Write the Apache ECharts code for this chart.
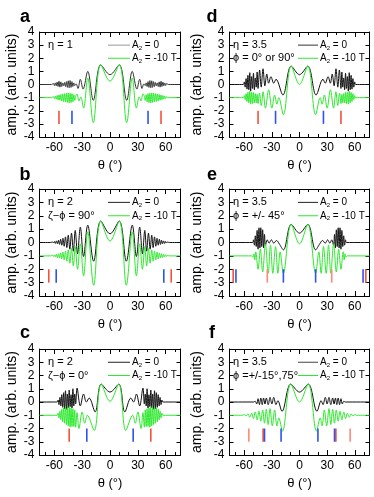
<!DOCTYPE html>
<html><head><meta charset="utf-8">
<script src="https://cdn.jsdelivr.net/npm/echarts@6/dist/echarts.min.js"></script>
<style>html,body{margin:0;padding:0;background:#fff}#c{width:374px;height:497px}</style>
</head><body><div id="c"></div>
<script>
// ---------- tick labels ----------
const xMinorTicks = [-70,-60,-50,-40,-30,-20,-10,0,10,20,30,40,50,60,70];
const xLabels = [-60,-30,0,30,60];
const yTicks = [-4,-3,-2,-1,0,1,2,3,4];

// ---------- curves [theta, amplitude] ----------
const aBlack = [[-76,0],[-63,0],[-61,0.08],[-60,-0.08],[-59,0.12],[-58,-0.1],[-57,0.18],[-56,-0.15],[-55,0.25],[-54,-0.2],[-53,0.2],[-52,-0.15],[-51,0.12],[-50,-0.1],[-49,0.15],[-48,-0.15],[-47,0.22],[-46,-0.22],[-45,0.28],[-44,-0.25],[-43,0.3],[-42,-0.22],[-41,0.22],[-40,-0.15],[-39,0.12],[-38,-0.08],[-36.5,0.05],[-34.5,-0.3],[-32,0.4],[-29,-0.35],[-24,1.0],[-18,-1.2],[-10,1.5],[0,0.75],[10,1.5],[18,-1.2],[24,1.0],[29,-0.35],[32,0.4],[34.5,-0.3],[36.5,0.05],[38,-0.08],[39,0.12],[40,-0.15],[41,0.22],[42,-0.22],[43,0.3],[44,-0.25],[45,0.28],[46,-0.22],[47,0.22],[48,-0.15],[49,0.15],[50,-0.1],[51,0.12],[52,-0.15],[53,0.2],[54,-0.2],[55,0.25],[56,-0.15],[57,0.18],[58,-0.1],[59,0.12],[60,-0.08],[61,0.08],[63,0],[76,0]];
const aGreen = [[-76,-1],[-63,-1],[-61,-0.93],[-60,-1.07],[-59,-0.88],[-58,-1.12],[-57,-0.84],[-56,-1.16],[-55,-0.8],[-54,-1.2],[-53,-0.76],[-52,-1.25],[-51,-0.72],[-50,-1.3],[-49,-0.7],[-48,-1.32],[-47,-0.66],[-46,-1.36],[-45,-0.64],[-44,-1.4],[-43,-0.66],[-42,-1.38],[-41,-0.7],[-40,-1.32],[-39,-0.78],[-38,-1.22],[-37,-0.9],[-35.5,-0.72],[-33.5,-1.25],[-31.5,-0.95],[-28.5,-1.8],[-24,0.5],[-18,-2.9],[-10,1.5],[0,0.25],[10,1.5],[18,-2.9],[24,0.5],[28.5,-1.8],[31.5,-0.95],[33.5,-1.25],[35.5,-0.72],[37,-0.9],[38,-1.22],[39,-0.78],[40,-1.32],[41,-0.7],[42,-1.38],[43,-0.66],[44,-1.4],[45,-0.64],[46,-1.36],[47,-0.66],[48,-1.32],[49,-0.7],[50,-1.3],[51,-0.72],[52,-1.25],[53,-0.76],[54,-1.2],[55,-0.8],[56,-1.16],[57,-0.84],[58,-1.12],[59,-0.88],[60,-1.07],[61,-0.93],[63,-1],[76,-1]];

const bBlack = [[-76,0],[-64,0],[-61.8,0.04],[-60.8,-0.04],[-59.8,0.08],[-58.8,-0.07],[-57.7,0.12],[-56.6,-0.1],[-55.5,0.17],[-54.4,-0.14],[-53.2,0.24],[-52,-0.2],[-50.7,0.32],[-49.4,-0.28],[-48,0.42],[-46.5,-0.38],[-45,0.55],[-43.3,-0.5],[-41.5,0.7],[-39.5,-0.65],[-37.5,0.9],[-35,-0.85],[-32,1.15],[-28.5,-1.05],[-24,1.3],[-17.6,-1.4],[-10,1.6],[0,0.65],[10,1.6],[17.6,-1.4],[24,1.3],[28.5,-1.05],[32,1.15],[35,-0.85],[37.5,0.9],[39.5,-0.65],[41.5,0.7],[43.3,-0.5],[45,0.55],[46.5,-0.38],[48,0.42],[49.4,-0.28],[50.7,0.32],[52,-0.2],[53.2,0.24],[54.4,-0.14],[55.5,0.17],[56.6,-0.1],[57.7,0.12],[58.8,-0.07],[59.8,0.08],[60.8,-0.04],[61.8,0.04],[64,0],[76,0]];
const bGreen = [[-76,-1],[-64,-1],[-61.8,-0.96],[-60.8,-1.04],[-59.8,-0.92],[-58.8,-1.08],[-57.7,-0.88],[-56.6,-1.12],[-55.5,-0.84],[-54.4,-1.16],[-53.2,-0.78],[-52,-1.22],[-50.7,-0.72],[-49.4,-1.3],[-48,-0.65],[-46.5,-1.4],[-45,-0.55],[-43.3,-1.55],[-41.5,-0.45],[-39.5,-1.75],[-37.5,-0.3],[-35,-2.0],[-32,-0.1],[-28.5,-2.5],[-24,0.8],[-17.6,-3.2],[-10,1.6],[0,0.1],[10,1.6],[17.6,-3.2],[24,0.8],[28.5,-2.5],[32,-0.1],[35,-2.0],[37.5,-0.3],[39.5,-1.75],[41.5,-0.45],[43.3,-1.55],[45,-0.55],[46.5,-1.4],[48,-0.65],[49.4,-1.3],[50.7,-0.72],[52,-1.22],[53.2,-0.78],[54.4,-1.16],[55.5,-0.84],[56.6,-1.12],[57.7,-0.88],[58.8,-1.08],[59.8,-0.92],[60.8,-1.04],[61.8,-0.96],[64,-1],[76,-1]];

const cBlack = [[-76,0],[-57,0],[-56,0.15],[-55,-0.2],[-54,0.35],[-53,-0.3],[-52,0.55],[-51,-0.4],[-50,0.7],[-49,-0.5],[-48,0.85],[-47,-0.55],[-46,0.6],[-45,-0.45],[-44,0.9],[-43,-0.35],[-42,0.55],[-41,-0.45],[-40,1.0],[-39,-0.3],[-38,0.6],[-37,-0.15],[-35.5,1.05],[-32,-0.3],[-28.5,0.6],[-25.5,0.0],[-22.5,0.3],[-16,-0.75],[-9.5,1.35],[0,0.75],[9.5,1.35],[16,-0.75],[22.5,0.3],[25.5,0.0],[28.5,0.6],[32,-0.3],[35.5,1.05],[37,-0.15],[38,0.6],[39,-0.3],[40,1.0],[41,-0.45],[42,0.55],[43,-0.35],[44,0.9],[45,-0.45],[46,0.6],[47,-0.55],[48,0.85],[49,-0.5],[50,0.7],[51,-0.4],[52,0.55],[53,-0.3],[54,0.35],[55,-0.2],[56,0.15],[57,0],[76,0]];
const cGreen = [[-76,-1],[-57,-1],[-56,-0.85],[-55,-1.2],[-54,-0.7],[-53,-1.35],[-52,-0.55],[-51,-1.5],[-50,-0.45],[-49,-1.6],[-48,-0.35],[-47,-1.7],[-46,-0.45],[-45,-1.8],[-44,-0.35],[-43,-1.9],[-42,-0.45],[-41,-1.85],[-40,-0.5],[-39,-1.85],[-38,-0.6],[-37,-1.9],[-35.5,-0.8],[-33.5,-2.0],[-30,-0.75],[-27.3,-1.6],[-24.5,-1.0],[-17,-2.15],[-9.5,1.35],[0,0.05],[9.5,1.35],[17,-2.15],[24.5,-1.0],[27.3,-1.6],[30,-0.75],[33.5,-2.0],[35.5,-0.8],[37,-1.9],[38,-0.6],[39,-1.85],[40,-0.5],[41,-1.85],[42,-0.45],[43,-1.9],[44,-0.35],[45,-1.8],[46,-0.45],[47,-1.7],[48,-0.35],[49,-1.6],[50,-0.45],[51,-1.5],[52,-0.55],[53,-1.35],[54,-0.7],[55,-1.2],[56,-0.85],[57,-1],[76,-1]];

const dBlack = [[-76,0],[-61,0],[-60,0.2],[-59,-0.2],[-58,0.45],[-57,-0.35],[-56,0.7],[-55,-0.4],[-54,0.9],[-53,-0.5],[-52,0.6],[-51,-0.3],[-50,0.85],[-49,-0.4],[-48,0.5],[-47,-0.2],[-46,0.95],[-45,-0.3],[-43.3,1.1],[-41.6,-0.2],[-39.6,1.2],[-37.6,-0.1],[-35.5,0.8],[-33.5,0.1],[-31,0.6],[-28,0.1],[-25.5,0.4],[-18,-0.8],[-9,1.4],[0,0.75],[9,1.4],[18,-0.8],[25.5,0.4],[28,0.1],[31,0.6],[33.5,0.1],[35.5,0.8],[37.6,-0.1],[39.6,1.2],[41.6,-0.2],[43.3,1.1],[45,-0.3],[46,0.95],[47,-0.2],[48,0.5],[49,-0.4],[50,0.85],[51,-0.3],[52,0.6],[53,-0.5],[54,0.9],[55,-0.4],[56,0.7],[57,-0.35],[58,0.45],[59,-0.2],[60,0.2],[61,0],[76,0]];
const dGreen = [[-76,-1],[-61,-1],[-60,-0.85],[-59,-1.15],[-58,-0.7],[-57,-1.3],[-56,-0.6],[-55,-1.4],[-54,-0.5],[-53,-1.5],[-52,-0.6],[-51,-1.45],[-50,-0.6],[-49,-1.4],[-48,-0.7],[-47,-1.4],[-46,-0.75],[-45,-1.45],[-43.5,-0.65],[-41.5,-1.6],[-39.5,-0.55],[-37,-1.8],[-33.5,-0.4],[-30,-1.8],[-27,-0.8],[-24.5,-1.5],[-22.5,-1.0],[-17.5,-2.3],[-9,1.4],[0,0.0],[9,1.4],[17.5,-2.3],[22.5,-1.0],[24.5,-1.5],[27,-0.8],[30,-1.8],[33.5,-0.4],[37,-1.8],[39.5,-0.55],[41.5,-1.6],[43.5,-0.65],[45,-1.45],[46,-0.75],[47,-1.4],[48,-0.7],[49,-1.4],[50,-0.6],[51,-1.45],[52,-0.6],[53,-1.5],[54,-0.5],[55,-1.4],[56,-0.6],[57,-1.3],[58,-0.7],[59,-1.15],[60,-0.85],[61,-1],[76,-1]];

const eBlack = [[-76,0],[-51,0],[-50,0.2],[-49,-0.2],[-48,0.5],[-47,-0.3],[-46,0.9],[-45,-0.5],[-44,1.1],[-43,-0.4],[-42,1.1],[-41,-0.3],[-40,0.95],[-39,-0.4],[-38,0.6],[-37,-0.2],[-35,0.2],[-33,-0.05],[-30.5,0.2],[-28,-0.05],[-25,0.15],[-22,-0.1],[-17.5,-0.55],[-9,1.35],[0,0.7],[9,1.35],[17.5,-0.55],[22,-0.1],[25,0.15],[28,-0.05],[30.5,0.2],[33,-0.05],[35,0.2],[37,-0.2],[38,0.6],[39,-0.4],[40,0.95],[41,-0.3],[42,1.1],[43,-0.4],[44,1.1],[45,-0.5],[46,0.9],[47,-0.3],[48,0.5],[49,-0.2],[50,0.2],[51,0],[76,0]];
const eGreen = [[-76,-1],[-52,-1],[-50.5,-1.1],[-49.5,-0.85],[-48.5,-1.3],[-47.5,-0.7],[-45,-2.0],[-42.5,-0.5],[-40,-2.2],[-37,-0.1],[-34,-2.3],[-31.5,-0.2],[-29,-2.3],[-26,-0.3],[-23.5,-2.3],[-21,-0.7],[-17.5,-2.3],[-9,1.35],[0,-0.1],[9,1.35],[17.5,-2.3],[21,-0.7],[23.5,-2.3],[26,-0.3],[29,-2.3],[31.5,-0.2],[34,-2.3],[37,-0.1],[40,-2.2],[42.5,-0.5],[45,-2.0],[47.5,-0.7],[48.5,-1.3],[49.5,-0.85],[50.5,-1.1],[52,-1],[76,-1]];

const fBlack = [[-76,0],[-50,0],[-48,0.05],[-46.5,-0.15],[-45,0.25],[-43.5,-0.2],[-42,0.3],[-40.5,-0.2],[-39,0.3],[-37.5,-0.15],[-36,0.3],[-34,-0.2],[-32,0.35],[-30,-0.15],[-28,0.35],[-25.5,-0.2],[-23.5,0.1],[-19,-0.7],[-9.5,1.35],[0,0.75],[9.5,1.35],[19,-0.7],[23.5,0.1],[25.5,-0.2],[28,0.35],[30,-0.15],[32,0.35],[34,-0.2],[36,0.3],[37.5,-0.15],[39,0.3],[40.5,-0.2],[42,0.3],[43.5,-0.2],[45,0.25],[46.5,-0.15],[48,0.05],[50,0],[76,0]];
const fGreen = [[-76,-1],[-62,-1],[-60,-0.95],[-58,-1.05],[-56,-0.9],[-54,-1.15],[-52,-0.85],[-50,-1.25],[-48,-0.75],[-46,-1.35],[-44,-0.7],[-42,-1.45],[-40,-0.6],[-38,-1.6],[-36,-0.55],[-34,-1.7],[-32,-0.5],[-29.5,-1.8],[-27,-0.6],[-24.5,-1.8],[-22.5,-1.2],[-18.5,-2.2],[-9.5,1.35],[0,0.0],[9.5,1.35],[18.5,-2.2],[22.5,-1.2],[24.5,-1.8],[27,-0.6],[29.5,-1.8],[32,-0.5],[34,-1.7],[36,-0.55],[38,-1.6],[40,-0.6],[42,-1.45],[44,-0.7],[46,-1.35],[48,-0.75],[50,-1.25],[52,-0.85],[54,-1.15],[56,-0.9],[58,-1.05],[60,-0.95],[62,-1],[76,-1]];

// ---------- vertical markers (theta positions), spanning amplitude -2 .. -3 ----------
const markTop = -2, markBottom = -3;
const aRedX = [-55,55], aBlueX = [-41,41];
const bRedX = [-66,66], bBlueX = [-58,58];
const cRedX = [-44,44], cBlueX = [-25,25];
const dRedX = [-45,45], dBlueX = [-26,26];
const eRedX = [-72,72], eSalmonX = [-35,35], eBlueX = [-69,-17.5,17.5,69];
const fRedX = [-39.5,39.5], fSalmonX = [-55,55], fBlueX = [-38,-20,20,38];

// ---------- layout / style ----------
const FONT = "'Liberation Sans', Arial, sans-serif";
const GREEN = '#2ee82e';
const RED = '#f4503a', SALMON = '#ff8a78', BLUE = '#2f52ee';
const cols = [{left:39.5, width:141, ynameGap:20, tx:48, lx1:108, lx2:130, ltx:132, letterX:25},
              {left:229.5, width:140, ynameGap:25, tx:233, lx1:298, lx2:318, ltx:320, letterX:212}];
const rows = [{top:32, height:105, letterY:17},{top:189, height:107, letterY:175},{top:349, height:106, letterY:333}];

const panels = [
  {letter:'a', c:0, r:0, t1:'η = 1', t2:'', black:aBlack, green:aGreen, blackColor:'#333', legendBlack:'#999', marks:[[aRedX,RED],[aBlueX,BLUE]]},
  {letter:'b', c:0, r:1, t1:'η = 2', t2:'ζ−ϕ = 90°', black:bBlack, green:bGreen, blackColor:'#111', legendBlack:'#222', marks:[[bRedX,RED],[bBlueX,BLUE]]},
  {letter:'c', c:0, r:2, t1:'η = 2', t2:'ζ−ϕ = 0°', black:cBlack, green:cGreen, blackColor:'#111', legendBlack:'#222', marks:[[cRedX,RED],[cBlueX,BLUE]]},
  {letter:'d', c:1, r:0, t1:'η = 3.5', t2:'ϕ = 0° or 90°', black:dBlack, green:dGreen, blackColor:'#111', legendBlack:'#333', marks:[[dRedX,RED],[dBlueX,BLUE]]},
  {letter:'e', c:1, r:1, t1:'η = 3.5', t2:'ϕ = +/- 45°', black:eBlack, green:eGreen, blackColor:'#111', legendBlack:'#222', marks:[[eRedX,RED],[eSalmonX,SALMON],[eBlueX,BLUE]]},
  {letter:'f', c:1, r:2, t1:'η = 3.5', t2:'ϕ =+/-15°,75°', black:fBlack, green:fGreen, blackColor:'#111', legendBlack:'#444', marks:[[fSalmonX,SALMON],[fRedX,RED],[fBlueX,BLUE]]}
];

const grid = [], xAxis = [], yAxis = [], series = [], graphic = [];
const axisLineStyle = {show:true, onZero:false, lineStyle:{color:'#000', width:1}};
const noLine = {show:false, onZero:false};
panels.forEach((p, i) => {
  const col = cols[p.c], row = rows[p.r];
  grid.push({left: col.left, top: row.top, width: col.width, height: row.height, show:false});
  const xb = {type:'value', gridIndex:i, min:-76, max:76, axisLine: axisLineStyle, splitLine:{show:false}};
  const xi = xAxis.length;
  xAxis.push(Object.assign({}, xb, {position:'bottom',
    axisTick:{show:true, inside:true, length:3, customValues:xMinorTicks, lineStyle:{color:'#000'}},
    axisLabel:{show:true, customValues:xLabels, color:'#000', fontSize:12, fontFamily:FONT, margin:5},
    name:'θ (°)', nameLocation:'middle', nameGap:22, nameTextStyle:{color:'#000', fontSize:13, fontFamily:FONT}}));
  xAxis.push(Object.assign({}, xb, {position:'bottom', axisLine:noLine,
    axisTick:{show:true, inside:true, length:5, customValues:xLabels, lineStyle:{color:'#000'}}, axisLabel:{show:false}}));
  xAxis.push(Object.assign({}, xb, {position:'top',
    axisTick:{show:true, inside:true, length:3, customValues:xMinorTicks, lineStyle:{color:'#000'}}, axisLabel:{show:false}}));
  xAxis.push(Object.assign({}, xb, {position:'top', axisLine:noLine,
    axisTick:{show:true, inside:true, length:5, customValues:xLabels, lineStyle:{color:'#000'}}, axisLabel:{show:false}}));
  const yb = {type:'value', gridIndex:i, min:-4, max:4, axisLine: axisLineStyle, splitLine:{show:false}};
  const yi = yAxis.length;
  yAxis.push(Object.assign({}, yb, {position:'left',
    axisTick:{show:true, inside:true, length:4, customValues:yTicks, lineStyle:{color:'#000'}},
    axisLabel:{show:true, customValues:yTicks, color:'#000', fontSize:12, fontFamily:FONT, margin:5},
    name:'amp. (arb. units)', nameLocation:'middle', nameGap:col.ynameGap, nameRotate:90,
    nameTextStyle:{color:'#000', fontSize:14, fontFamily:FONT}}));
  yAxis.push(Object.assign({}, yb, {position:'right',
    axisTick:{show:true, inside:true, length:4, customValues:yTicks, lineStyle:{color:'#000'}}, axisLabel:{show:false}}));

  series.push({type:'line', xAxisIndex:xi, yAxisIndex:yi, data:p.black, showSymbol:false, smooth:0.35,
    lineStyle:{color:p.blackColor, width:1}, silent:true, z:2});
  series.push({type:'line', xAxisIndex:xi, yAxisIndex:yi, data:p.green, showSymbol:false, smooth:0.35,
    lineStyle:{color:GREEN, width:1}, silent:true, z:3});
  const mdata = [];
  p.marks.forEach(([xs, color]) => xs.forEach(x => mdata.push({value:[x, markTop, markBottom], color})));
  series.push({type:'custom', xAxisIndex:xi, yAxisIndex:yi, data:mdata, silent:true, z:4,
    renderItem: (params, api) => {
      const a = api.coord([api.value(0), api.value(1)]);
      const b = api.coord([api.value(0), api.value(2)]);
      return {type:'line', shape:{x1:a[0], y1:a[1], x2:b[0], y2:b[1]},
        style:{stroke: mdata[params.dataIndex].color, lineWidth:1.6}};
    }});

  // annotations
  const yAt = v => row.top + row.height * (4 - v) / 8;
  graphic.push({type:'text', x:col.letterX, y:row.letterY, style:{text:p.letter, font:'bold 18px ' + FONT, fill:'#000', align:'center', verticalAlign:'middle'}});
  graphic.push({type:'text', x:col.tx, y:yAt(3), style:{text:p.t1, font:'11px ' + FONT, fill:'#000', verticalAlign:'middle'}});
  if (p.t2) graphic.push({type:'text', x:col.tx, y:yAt(2), style:{text:p.t2, font:'11px ' + FONT, fill:'#000', verticalAlign:'middle'}});
  graphic.push({type:'line', shape:{x1:col.lx1, y1:yAt(3), x2:col.lx2, y2:yAt(3)}, style:{stroke:p.legendBlack, lineWidth:1}});
  graphic.push({type:'line', shape:{x1:col.lx1, y1:yAt(2), x2:col.lx2, y2:yAt(2)}, style:{stroke:GREEN, lineWidth:1}});
  const rich = {n:{fontSize:10, fontFamily:FONT, fill:'#000', lineHeight:12}, s:{fontSize:6, fontFamily:FONT, fill:'#000', lineHeight:12, verticalAlign:'bottom'}};
  graphic.push({type:'text', x:col.ltx, y:yAt(3), style:{text:'{n|A}{s|2}{n| = 0}', rich, verticalAlign:'middle'}});
  graphic.push({type:'text', x:col.ltx, y:yAt(2), style:{text:'{n|A}{s|2}{n| = -10 T}', rich, verticalAlign:'middle'}});
});

const chart = echarts.init(document.getElementById('c'), null, {renderer:'canvas'});
chart.setOption({animation:false, backgroundColor:'#fff', grid, xAxis, yAxis, series, graphic});
</script></body></html>
